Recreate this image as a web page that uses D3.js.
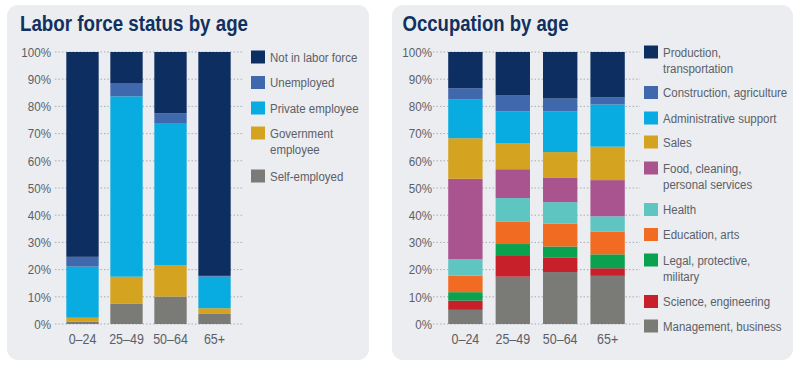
<!DOCTYPE html>
<html><head><meta charset="utf-8">
<script src="https://cdn.jsdelivr.net/npm/d3@7"></script>
<style>
html,body{margin:0;padding:0;background:#fff;}
svg{display:block;}
text{font-family:"Liberation Sans",Arial,sans-serif;}
</style></head><body>
<svg id="c" width="800" height="369"></svg>
<script>
const ages = ["0–24","25–49","50–64","65+"];
const yTicks = [0,10,20,30,40,50,60,70,80,90,100];

// Labor force status (bottom to top)
const laborSeries = ["Self-employed","Government employee","Private employee","Unemployed","Not in labor force"];
const selfEmployed   = [0.8, 7.4, 10.1, 3.7];
const government     = [1.5, 10.0, 11.6, 2.1];
const privateEmp     = [18.8, 66.3, 52.2, 11.6];
const unemployed     = [3.6, 4.9, 3.6, 0.3];
const notInLabor     = [75.3, 11.4, 22.5, 82.3];

// Occupation (bottom to top)
const occSeries = ["Management, business","Science, engineering","Legal, protective, military","Education, arts","Health","Food, cleaning, personal services","Sales","Administrative support","Construction, agriculture","Production, transportation"];
const management   = [5.2, 17.4, 19.1, 17.7];
const science      = [3.4, 7.6, 5.4, 2.8];
const legal        = [3.1, 4.4, 4.0, 5.1];
const education    = [6.1, 8.3, 8.4, 8.4];
const health       = [6.0, 8.6, 7.9, 5.6];
const food         = [29.6, 10.6, 8.9, 13.3];
const sales        = [14.9, 9.5, 9.5, 12.3];
const admin        = [14.2, 11.8, 15.0, 15.5];
const construction = [4.2, 5.8, 4.7, 2.6];
const production   = [13.3, 16.0, 17.1, 16.7];

const laborColors = ["#7a7a77","#d4a320","#09ace0","#4068ad","#0c2e60"];
const occColors = ["#7a7a77","#c8202b","#0aa24f","#f26b22","#5ec5c1","#a9548f","#d4a320","#09ace0","#4068ad","#0c2e60"];

const svg = d3.select("#c");
const panelFill = "#ebedf0";
svg.append("rect").attr("x",7).attr("y",5).attr("width",362).attr("height",355).attr("rx",11).attr("fill",panelFill);
svg.append("rect").attr("x",392).attr("y",5).attr("width",401).attr("height",355).attr("rx",11).attr("fill",panelFill);

// condensed text helper
function ctext(parent, x, y, str, size, sx, anchor){
  return parent.append("text")
    .attr("transform",`translate(${x},${y}) scale(${sx},1)`)
    .attr("text-anchor",anchor||"start")
    .attr("font-size",size).attr("fill","#5b6068").text(str);
}

function drawChart(opt){
  const g = svg.append("g");
  g.append("text").attr("x",opt.titleX).attr("y",31).text(opt.title)
    .attr("font-size",22.5).attr("font-weight","bold").attr("fill","#12305e")
    .attr("textLength",opt.titleW).attr("lengthAdjust","spacingAndGlyphs");
  const y = d3.scaleLinear().domain([0,100]).range([324,52]);
  const x = d3.scaleBand().domain(ages).range(opt.xRange).paddingInner(opt.padIn).paddingOuter(opt.padOut);
  // grid
  g.selectAll(".grid").data(yTicks).join("line")
    .attr("x1",opt.gridX[0]).attr("x2",opt.gridX[1])
    .attr("y1",d=>y(d)).attr("y2",d=>y(d))
    .attr("stroke","#a9adb3").attr("stroke-width",1).attr("stroke-dasharray","1.5,2");
  // y labels
  yTicks.forEach(d=>ctext(g, opt.yLabelX, y(d)+4.7, d+"%", 13.5, 0.86, "end"));
  // stacks
  const rows = ages.map((a,i)=>{ const o={age:a}; opt.series.forEach((s,k)=>o[s]=opt.values[k][i]); return o; });
  const stack = d3.stack().keys(opt.series)(rows);
  stack.forEach((layer,k)=>{
    g.selectAll(null).data(layer).join("rect")
      .attr("x",d=>x(d.data.age)).attr("width",x.bandwidth())
      .attr("y",d=>y(d[1])).attr("height",d=>y(d[0])-y(d[1]))
      .attr("fill",opt.colors[k]);
  });
  // x labels
  ages.forEach(d=>ctext(g, x(d)+x.bandwidth()/2, 344, d, 14.5, 0.86, "middle"));
  // legend (top to bottom)
  const lg = g.append("g");
  opt.legend.forEach((it,i)=>{
    const k = opt.series.length-1-i;
    lg.append("rect").attr("x",opt.legX).attr("y",it.y-6.5).attr("width",14).attr("height",13).attr("fill",opt.colors[k]);
    it.lines.forEach((ln,j)=>{
      ctext(lg, opt.legX+19, it.y+4.8+j*16.5, ln, 13.5, 0.85, "start");
    });
  });
}

drawChart({
  title:"Labor force status by age", titleX:20, titleW:228,
  xRange:[54,243], padIn:0.265, padOut:0.28,
  gridX:[55,242], yLabelX:51,
  series:laborSeries, values:[selfEmployed,government,privateEmp,unemployed,notInLabor], colors:laborColors,
  legX:251,
  legend:[
    {y:57,lines:["Not in labor force"]},
    {y:82.5,lines:["Unemployed"]},
    {y:108,lines:["Private employee"]},
    {y:133,lines:["Government","employee"]},
    {y:176,lines:["Self-employed"]}
  ]
});

drawChart({
  title:"Occupation by age", titleX:402.5, titleW:166,
  xRange:[434,639], padIn:0.275, padOut:0.3,
  gridX:[433,640], yLabelX:432,
  series:occSeries, values:[management,science,legal,education,health,food,sales,admin,construction,production], colors:occColors,
  legX:644,
  legend:[
    {y:52,lines:["Production,","transportation"]},
    {y:92.5,lines:["Construction, agriculture"]},
    {y:118,lines:["Administrative support"]},
    {y:142,lines:["Sales"]},
    {y:168,lines:["Food, cleaning,","personal services"]},
    {y:209.5,lines:["Health"]},
    {y:234.5,lines:["Education, arts"]},
    {y:260,lines:["Legal, protective,","military"]},
    {y:301.5,lines:["Science, engineering"]},
    {y:326,lines:["Management, business"]}
  ]
});
</script></body></html>
